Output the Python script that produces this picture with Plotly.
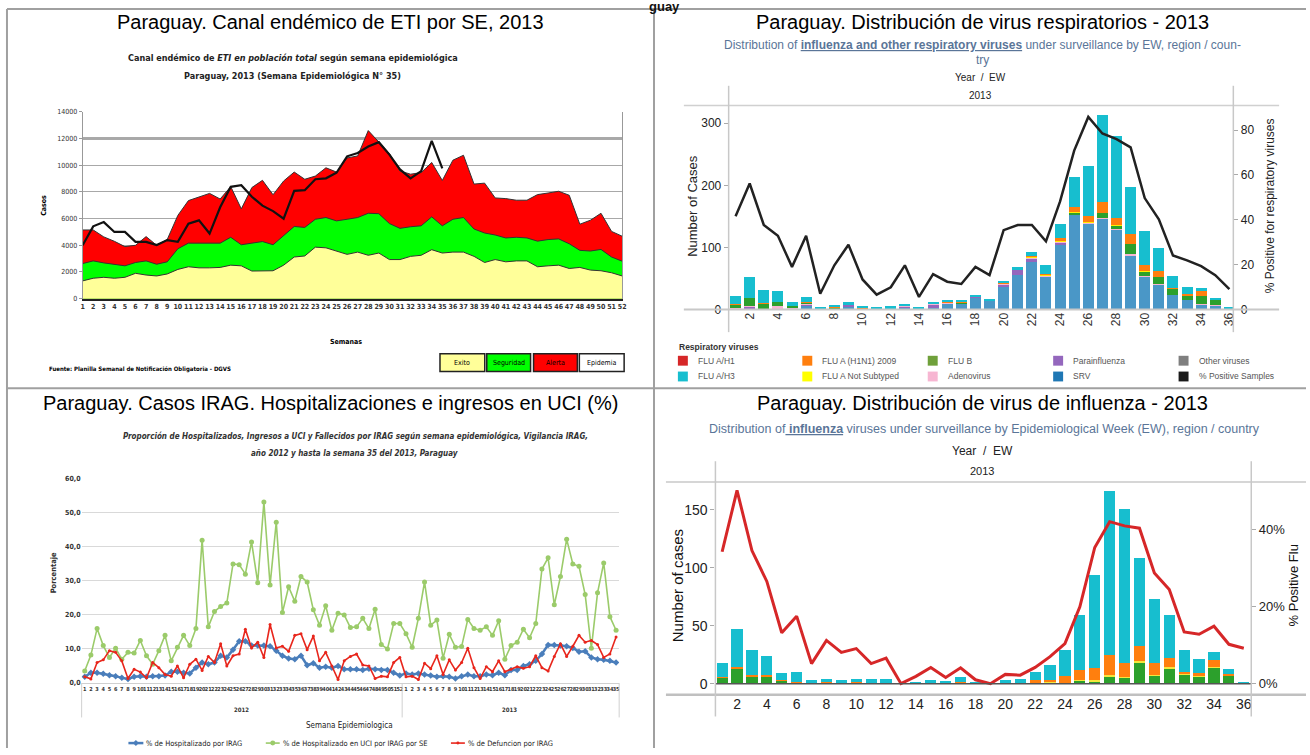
import plotly.graph_objects as go

# ================= DATA =================
# Panel 1: Canal endémico ETI (2013)
semanas = list(range(1, 53))
exito = [1330, 1530, 1600, 1530, 1600, 1900, 1770, 1700, 1850, 2190,
         2390, 2310, 2310, 2340, 2510, 2460, 2070, 2070, 2090, 2510,
         3120, 3200, 3860, 3810, 3570, 3320, 3490, 3250, 3420, 2930,
         2930, 3170, 3250, 3670, 3420, 3490, 3490, 3170, 2710, 2930,
         2760, 2830, 2830, 2390, 2460, 2510, 2260, 2340, 2140, 2090,
         1940, 1700]
seguridad = [2630, 2830, 2680, 2560, 2460, 2710, 2830, 2580, 2760, 3740,
             4160, 4160, 4180, 4160, 4600, 4040, 4160, 4280, 4040, 4720,
             5410, 5340, 5950, 6080, 5830, 5950, 6080, 6400, 6370, 5630,
             5270, 5390, 5460, 6130, 5460, 5950, 6080, 5220, 4920, 4770,
             4550, 4600, 4550, 4310, 4430, 4480, 4110, 3620, 3570, 3690,
             3120, 2810]
alerta = [5150, 5150, 4630, 4300, 3900, 4000, 4650, 4000, 4440, 6240,
          7350, 7640, 7890, 7470, 8400, 6730, 8330, 8870, 7790, 8820,
          9490, 8950, 9190, 9810, 9490, 10550, 10700, 12600, 11740, 10880,
          9570, 9330, 9450, 10210, 8860, 10380, 10750, 8590, 8660, 7550,
          7500, 7380, 7380, 7800, 7920, 8050, 7750, 5580, 5880, 6400,
          5040, 4680]
semanas_2013 = list(range(1, 36))
casos_2013 = [4000, 5420, 5740, 5000, 5000, 4260, 4260, 4020, 4390, 4260,
              5620, 5870, 4880, 6850, 8380, 8500, 7640, 6970, 6560, 5990,
              8080, 8130, 8950, 9020, 9440, 10670, 10920, 11410, 11730, 10800,
              9690, 9020, 9560, 11830, 9760]
casos_ticks = [0, 2000, 4000, 6000, 8000, 10000, 12000, 14000]

# Panel 2: respiratory viruses by EW 2013
ew = list(range(1, 37))
rv_flu_ah1 = [0, 0, 0, 0, 0, 0, 0, 0, 0, 0, 0, 0, 0, 0, 0, 0, 0, 0,
              0, 0, 0, 0, 0, 0, 0, 0, 0.6, 0, 0, 0, 0, 0, 0, 0, 0, 0]
rv_srv = [0, 0, 0, 0, 0, 5, 0.5, 1, 3.5, 1, 0.7, 1.3, 2, 1, 2.5, 9.5, 9, 18.5,
          14, 37, 55.5, 76.7, 53, 104, 152, 137.6, 145.5, 128, 86.8, 53, 39, 22.7, 15.3, 6.9, 5.3, 0]
rv_para = [1.5, 3.5, 0.5, 0, 1, 3, 0, 0, 3, 0, 0, 0, 2, 0, 5, 0, 0, 1.5,
           0, 2.5, 8, 5, 0, 3, 0, 0, 0, 0, 0, 0, 0, 0, 0, 0, 0, 0]
rv_adeno = [1, 1.5, 0.5, 5, 1, 1, 0, 0, 1.5, 0, 0, 0, 2, 0, 1, 0.5, 0, 0,
            0, 2, 0, 1, 1.5, 1.5, 1, 1, 1.6, 1.6, 2, 1.6, 1.5, 1, 0, 1.6, 1.6, 0]
rv_flub = [5, 13, 8, 7, 3, 1, 0, 2, 0, 0, 0, 0, 0, 0, 0, 0, 1.5, 0,
           0, 0, 0, 0, 0, 0, 2.6, 1, 7.4, 5.3, 15.9, 6.3, 11.6, 9.5, 6, 12.7, 8, 0]
rv_notsub = [0, 0, 0, 0, 0, 0.5, 0, 0, 0, 0, 0, 0, 0, 0, 0, 1, 0.5, 0,
             0, 0, 0, 1.5, 1, 1.5, 1.5, 2, 0, 1, 1, 1, 0.5, 0.5, 1, 1, 0, 0]
rv_h1n1 = [1, 1, 1, 0.5, 0.5, 1.5, 0, 1, 0, 2, 0, 0, 0, 0, 0, 1, 1.5, 0,
           0, 1, 0, 2.5, 1.5, 5.8, 7.4, 9, 17.5, 11.6, 15.9, 9.5, 9, 1.5, 3, 7, 0, 0]
rv_h3 = [13, 34, 22, 17, 6, 7.5, 2.5, 2, 3.5, 3, 4, 5, 2, 2, 3, 1.5, 2, 1,
         1.8, 2.5, 5, 6, 14, 21.7, 49, 80, 140, 132, 75, 55.5, 37, 18.5, 11.6, 5.8, 2.6, 1.6]
rv_pct_pos = [41.6, 56.2, 37.7, 32.9, 19.0, 32.9, 7.0, 19.7, 28.9, 13.4, 6.6, 9.9,
              19.7, 5.6, 15.8, 12.4, 11.4, 19.0, 15.3, 35.4, 37.7, 37.7, 30.4, 48.2,
              70.9, 85.9, 78.5, 76.0, 72.3, 49.7, 40.2, 24.1, 21.9, 19.3, 15.3, 9.1]

# Panel 3: IRAG percentages, 2012 w1-52 and 2013 w1-35
semana_labels = [str(s) for s in range(1, 53)] + [str(s) for s in range(1, 36)]
pct_hosp = [1.8, 3.0, 3.0, 2.7, 2.3, 2.0, 1.5, 1.2, 1.8, 2.0,
            1.8, 2.0, 2.0, 2.2, 3.3, 3.3, 3.0, 2.8, 4.5, 6.0,
            5.5, 6.0, 8.0, 7.5, 9.8, 12.3, 12.3, 11.0, 11.0, 11.0,
            10.8, 9.5, 8.0, 7.2, 7.0, 8.0, 5.2, 5.8, 4.5, 4.8,
            4.5, 5.0, 4.0, 4.0, 4.0, 3.8, 4.2, 4.0, 3.8, 3.8,
            3.0, 2.2,
            2.8, 2.5, 2.8, 2.5, 2.2, 1.8, 2.0, 1.8, 1.3, 2.0,
            2.5, 2.0, 2.0, 2.5, 2.3, 3.0, 2.3, 3.8, 3.8, 5.0,
            5.5, 6.5, 8.5, 11.2, 11.2, 11.0, 10.8, 10.3, 9.2, 9.3,
            7.5, 7.0, 6.8, 6.5, 6.0]
pct_uci = [3.5, 8.2, 16.0, 11.0, 7.5, 10.2, 7.0, 9.0, 8.8, 12.5,
           8.0, 5.5, 9.5, 14.0, 6.5, 10.5, 14.0, 11.0, 16.0, 42.0,
           16.5, 21.0, 22.5, 23.5, 35.0, 34.8, 32.0, 41.5, 29.5, 53.2,
           28.8, 47.3, 20.7, 28.3, 24.0, 31.3, 29.7, 21.5, 17.0, 22.7,
           15.5, 20.5, 20.0, 16.3, 16.5, 19.0, 16.0, 21.7, 11.3, 10.0,
           17.5, 17.5,
           14.5, 10.5, 19.0, 29.7, 17.0, 18.5, 7.3, 14.3, 10.5, 10.7,
           18.7, 16.0, 15.5, 16.5, 14.0, 18.3, 7.0, 11.0, 12.0, 15.8,
           13.3, 17.5, 33.5, 36.8, 23.0, 31.3, 42.3, 35.0, 34.3, 26.0,
           10.2, 26.5, 35.3, 19.5, 15.5]
pct_def = [1.8, 1.2, 6.0, 6.8, 9.5, 9.0, 6.5, 1.3, 4.0, 3.2,
           1.5, 6.0, 4.5, 2.5, 2.0, 5.0, 1.5, 5.5, 7.0, 3.7,
           7.8, 6.0, 11.5, 5.0, 8.0, 8.5, 15.8, 10.3, 12.0, 7.5,
           17.2, 10.3, 10.8, 9.3, 14.0, 14.5, 9.8, 13.8, 6.5, 9.0,
           5.0, 1.0, 6.5, 7.8, 8.5, 5.3, 5.0, 1.3, 2.0, 1.8,
           6.0, 7.5,
           1.8, 2.0, 1.0, 5.8, 4.2, 8.0, 2.5, 6.8, 3.8, 6.0,
           10.2, 4.5, 1.3, 4.8, 3.3, 6.5, 3.3, 4.0, 4.8, 4.3,
           4.8, 8.0, 4.5, 3.5, 7.8, 11.5, 7.8, 10.8, 14.0, 12.0,
           12.5, 11.3, 7.5, 8.5, 13.5]

# Panel 4: influenza viruses by EW 2013
fl_flub = [5, 13, 6.5, 6.5, 2.5, 0.5, 0, 0.5, 0, 0, 0, 0, 0, 0, 0, 0, 0.5, 0,
           0, 0, 0, 0, 0.5, 0, 2.5, 2, 6.5, 5, 17.6, 6.8, 13.3, 8.2, 6.5, 13.6, 7.5, 0]
fl_notsub = [0, 0, 0, 0, 0, 0, 0, 0, 0, 0, 0, 0, 0, 0, 0, 0.5, 0, 0,
             0, 0, 0, 0.5, 1, 1, 1, 1, 1, 0.8, 2, 0.8, 0.8, 0.5, 0.5, 0.5, 0, 0]
fl_h1n1 = [1, 1, 1, 1, 1, 1, 1, 1, 0.5, 1.2, 0.5, 0.5, 0, 0, 0.5, 0, 1, 0.5,
           0, 0.5, 0.5, 2.5, 2, 5.8, 8.5, 10.5, 17, 11.8, 13.3, 10, 8.3, 1.8, 1.8, 6, 1, 0.5]
fl_h3 = [12, 33, 22, 16, 5.5, 8.5, 2, 2.5, 2.5, 2.8, 3.5, 3.5, 0.5, 1.5, 2.5, 1.8, 4.2, 1.2,
         0.5, 2.5, 3.5, 7, 12.5, 22, 47, 80, 142, 133.4, 75.4, 55.3, 37, 19, 12.2, 6.9, 4, 1]
fl_pct_pos = [34.2, 50.1, 34.5, 26.5, 13.2, 17.5, 5.2, 11.2, 8.1, 9.1, 5.2, 6.6,
              0.0, 1.9, 4.2, 1.6, 4.1, 1.0, 0.0, 2.4, 2.2, 4.2, 7.0, 10.4,
              19.9, 35.3, 42.0, 40.9, 40.3, 28.7, 24.4, 13.4, 12.8, 14.9, 10.2, 9.2]

# ================= LAYOUT HELPERS =================
W, H = 1310, 755
ARIAL = "Liberation Sans, Arial, sans-serif"
NARROW = "Liberation Sans Narrow, Arial Narrow, DejaVu Sans Condensed, sans-serif"


def xd(a, b):
    return [a / W, b / W]


def yd(top, bottom):
    return [1 - bottom / H, 1 - top / H]


annotations = []
shapes = []


def ann(x, y, text, size, color="#000", family=ARIAL, xanchor="center",
        yanchor="middle", angle=0):
    annotations.append(dict(xref="paper", yref="paper", x=x / W, y=1 - y / H,
                            text=text, showarrow=False, textangle=angle,
                            font=dict(size=size, color=color, family=family),
                            xanchor=xanchor, yanchor=yanchor))


def hline(x0, x1, y, color="#aaa", width=1.5, dash="solid"):
    shapes.append(dict(type="line", xref="paper", yref="paper", x0=x0 / W, x1=x1 / W,
                       y0=1 - y / H, y1=1 - y / H, line=dict(color=color, width=width, dash=dash)))


def vline(x, y0, y1, color="#aaa", width=1.5):
    shapes.append(dict(type="line", xref="paper", yref="paper", x0=x / W, x1=x / W,
                       y0=1 - y0 / H, y1=1 - y1 / H, line=dict(color=color, width=width)))


def rect(x0, y0, x1, y1, fill, line="#000", lw=1):
    shapes.append(dict(type="rect", xref="paper", yref="paper", x0=x0 / W, x1=x1 / W,
                       y0=1 - y1 / H, y1=1 - y0 / H, fillcolor=fill,
                       line=dict(color=line, width=lw)))


fig = go.Figure()

# ================= PANEL 1 =================
for vals, col in [(alerta, "#ff0000"), (seguridad, "#00ff00"), (exito, "#ffff99")]:
    fig.add_trace(go.Scatter(x=semanas, y=vals, xaxis="x", yaxis="y", mode="lines",
                             fill="tozeroy", fillcolor=col,
                             line=dict(color="#333", width=1), hoverinfo="skip"))
fig.add_trace(go.Scatter(x=semanas_2013, y=casos_2013, xaxis="x", yaxis="y", mode="lines",
                         line=dict(color="#111", width=2.2)))
shapes.append(dict(type="line", xref="x", yref="y", x0=1, x1=52, y0=12000, y1=12000,
                   line=dict(color="#555", width=2), layer="below"))

ann(330, 18, "Paraguay. Canal endémico de ETI por SE, 2013", 20)
ann(292, 55, "<b>Canal endémico de <i>ETI en población total</i> según semana epidemiológica</b>", 9,
    color="#222", family=NARROW)
ann(292, 73, "<b>Paraguay, 2013 (Semana Epidemiológica N° 35)</b>", 9, color="#222", family=NARROW)
ann(42, 204, "<b>Casos</b>", 7, angle=-90, family=NARROW)
ann(346, 343, "<b>Semanas</b>", 7, family=NARROW)
ann(45, 370, "<b>Fuente: Planilla Semanal de Notificación Obligatoria - DGVS</b>", 6,
    family=NARROW, xanchor="left")
for (x0, x1, fill, lab) in [(440, 485, "#ffff99", "Exito"), (487, 531, "#00ff00", "Seguridad"),
                            (534, 578, "#ff0000", "Alerta"), (580, 625, "#ffffff", "Epidemia")]:
    rect(x0, 355, x1, 373, fill, "#222", 1.5)
    ann((x0 + x1) / 2, 364, lab, 7, family=NARROW)

# ================= PANEL 2 =================
p2_series = [
    (rv_flu_ah1, "#d62728"), (rv_srv, "#4a97c7"), (rv_para, "#9467bd"),
    (rv_adeno, "#f7b6d2"), (rv_flub, "#2ca02c"), (rv_notsub, "#ffee00"),
    (rv_h1n1, "#ff7f0e"), (rv_h3, "#17becf"),
]
for vals, col in p2_series:
    fig.add_trace(go.Bar(x=ew, y=vals, xaxis="x2", yaxis="y2", width=0.78,
                         marker=dict(color=col, line=dict(width=0))))
fig.add_trace(go.Scatter(x=ew, y=rv_pct_pos, xaxis="x2", yaxis="y3", mode="lines",
                         line=dict(color="#222", width=2.5)))

ann(985, 18, "Paraguay. Distribución de virus respiratorios - 2013", 20)
ann(985, 42, "Distribution of <b><u>influenza and other respiratory viruses</u></b> under surveillance by EW, region / coun-",
    12, color="#5a7598")
ann(985, 57, "try", 12, color="#5a7598")
ann(983, 75, "Year  /  EW", 10, color="#222")
ann(983, 93, "2013", 10, color="#222")
hline(685, 1283, 103, "#d0d0d0", 1.5)
hline(685, 1283, 310, "#c8c8c8", 2)
vline(730, 83, 333, "#c8c8c8", 1.5)
vline(1237, 83, 333, "#c8c8c8", 1.5)
ann(693, 205, "Number of Cases", 13, color="#222", angle=-90)
ann(1274, 205, "% Positive for respiratory viruses", 12, color="#222", angle=-90)

# legend panel 2
ann(678, 348, "<b>Respiratory viruses</b>", 8.5, color="#333", xanchor="left")
leg2 = [
    (679, 362, "#d62728", "FLU A/H1"), (804, 362, "#ff7f0e", "FLU A (H1N1) 2009"),
    (930, 362, "#6fa03a", "FLU B"), (1056, 362, "#9467bd", "Parainfluenza"),
    (1182, 362, "#7f7f7f", "Other viruses"),
    (679, 378, "#17becf", "FLU A/H3"), (804, 378, "#ffff00", "FLU A Not Subtyped"),
    (930, 378, "#f7b6d2", "Adenovirus"), (1056, 378, "#1f77b4", "SRV"),
    (1182, 378, "#1a1a1a", "% Positive Samples"),
]
for x, y, col, lab in leg2:
    rect(x, y - 5, x + 10, y + 5, col, col, 0)
    ann(x + 18, y, lab, 8.5, color="#555", xanchor="left")

# ================= PANEL 3 =================
idx = list(range(len(semana_labels)))
fig.add_trace(go.Scatter(x=idx, y=pct_hosp, xaxis="x3", yaxis="y4", mode="lines+markers",
                         line=dict(color="#4a7ebb", width=2.5),
                         marker=dict(symbol="diamond", size=5, color="#4a7ebb")))
fig.add_trace(go.Scatter(x=idx, y=pct_uci, xaxis="x3", yaxis="y4", mode="lines+markers",
                         line=dict(color="#9bcb6a", width=1.6),
                         marker=dict(symbol="circle", size=5, color="#9bcb6a")))
fig.add_trace(go.Scatter(x=idx, y=pct_def, xaxis="x3", yaxis="y4", mode="lines+markers",
                         line=dict(color="#e8261c", width=1.6),
                         marker=dict(symbol="circle", size=3, color="#e8261c")))

ann(330, 405, "Paraguay. Casos IRAG. Hospitalizaciones e ingresos en UCI (%)", 20)
ann(355, 438, "<b><i>Proporción de Hospitalizados, Ingresos a UCI y Fallecidos por IRAG según semana epidemiológica, Vigilancia IRAG,</i></b>",
    8, color="#333", family=NARROW)
ann(354, 456, "<b><i>año 2012 y hasta la semana 35 del 2013, Paraguay</i></b>", 8, color="#333", family=NARROW)
ann(52, 577, "<b>Porcentaje</b>", 7.5, color="#333", angle=-90, family=NARROW)
ann(241, 716, "<b>2012</b>", 6, color="#333", family=NARROW)
ann(510, 716, "<b>2013</b>", 6, color="#333", family=NARROW)
ann(349, 732, "Semana Epidemiologica", 8, color="#222", family=NARROW)
for xx in (80, 402, 620):
    vline(xx, 689, 724, "#d0d0d0", 1)
# legend panel 3
hline(127, 142, 750, "#4a7ebb", 2.5)
shapes.append(dict(type="path", xref="paper", yref="paper",
                   path=f"M {134.5/W},{1-747/H} L {137.5/W},{1-750/H} L {134.5/W},{1-753/H} L {131.5/W},{1-750/H} Z",
                   fillcolor="#4a7ebb", line=dict(width=0)))
ann(143, 750, "% de Hospitalizado por IRAG", 7.5, color="#222", family=NARROW, xanchor="left")
hline(265, 279, 750, "#9bcb6a", 1.6)
shapes.append(dict(type="circle", xref="paper", yref="paper", x0=269.5 / W, x1=274.5 / W,
                   y0=1 - 752.5 / H, y1=1 - 747.5 / H, fillcolor="#9bcb6a", line=dict(width=0)))
ann(280, 750, "% de Hospitalizado en UCI por IRAG por SE", 7.5, color="#222", family=NARROW, xanchor="left")
hline(451, 465, 750, "#e8261c", 1.6)
shapes.append(dict(type="circle", xref="paper", yref="paper", x0=456.5 / W, x1=459.5 / W,
                   y0=1 - 751.5 / H, y1=1 - 748.5 / H, fillcolor="#e8261c", line=dict(width=0)))
ann(466, 750, "% de Defuncion por IRAG", 7.5, color="#222", family=NARROW, xanchor="left")

# ================= PANEL 4 =================
for vals, col in [(fl_flub, "#2ca02c"), (fl_notsub, "#f5e63c"), (fl_h1n1, "#ff7f0e"), (fl_h3, "#17becf")]:
    fig.add_trace(go.Bar(x=ew, y=vals, xaxis="x4", yaxis="y5", width=0.75,
                         marker=dict(color=col, line=dict(width=0))))
fig.add_trace(go.Scatter(x=ew, y=fl_pct_pos, xaxis="x4", yaxis="y6", mode="lines",
                         line=dict(color="#d62728", width=3)))
shapes.append(dict(type="line", xref="x4", yref="y5", x0=0.55, x1=36.5, y0=0, y1=0,
                   line=dict(color="#555", width=1.5), layer="above"))

ann(985, 405, "Paraguay. Distribución de virus de influenza - 2013", 20)
ann(987, 431, "Distribution of<b><u> influenza</u></b> viruses under surveillance by Epidemiological Week (EW), region / country",
    12.5, color="#5a7598")
ann(985, 454, "Year  /  EW", 12, color="#222")
ann(985, 474, "2013", 11, color="#222")
hline(667, 1310, 485, "#c8c8c8", 1.5)
hline(667, 1310, 701, "#c0c0c0", 2.5)
vline(716.7, 464, 723, "#c8c8c8", 1.5)
vline(1255, 464, 723, "#c8c8c8", 1.5)
ann(679, 590, "Number of cases", 15, color="#111", angle=-90)
ann(1297, 590, "% Positive Flu", 13, color="#111", angle=-90)

# ================= FRAME =================
hline(5, 1310, 5, "#a0a0a0", 2)
hline(5, 1310, 390, "#a0a0a0", 2)
vline(5, 5, 755, "#a0a0a0", 2)
vline(655, 5, 755, "#a0a0a0", 2)
ann(666, 3, "<b>guay</b>", 13, color="#111")

# ================= AXES =================
tickfont_small = dict(size=7, family=NARROW, color="#333")
fig.update_layout(
    width=W, height=H, margin=dict(l=0, r=0, t=0, b=0),
    paper_bgcolor="white", plot_bgcolor="rgba(0,0,0,0)",
    showlegend=False, barmode="stack",
    annotations=annotations, shapes=shapes,
    xaxis=dict(domain=xd(81, 623), anchor="y", range=[1, 52], tickvals=semanas,
               ticktext=[f"<b>{s}</b>" for s in semanas], tickangle=0,
               tickfont=tickfont_small, showgrid=False, zeroline=False,
               showline=True, linecolor="#222", linewidth=1.5, mirror=False),
    yaxis=dict(domain=yd(109.5, 299), anchor="x", range=[0, 14000],
               tickvals=casos_ticks, ticktext=[str(v) for v in casos_ticks],
               tickfont=tickfont_small, showgrid=True, gridcolor="#a8a8a8", gridwidth=1,
               zeroline=False, showline=True, linecolor="#999", linewidth=1, mirror=True,
               ticks="outside", ticklen=3, tickcolor="#999"),
    xaxis2=dict(domain=xd(730, 1237), anchor="y2", range=[0.51, 36.28],
                tickvals=list(range(2, 37, 2)), tickangle=-90,
                tickfont=dict(size=12, family=ARIAL, color="#333"),
                showgrid=False, zeroline=False, showline=False, ticks=""),
    yaxis2=dict(domain=yd(103, 310), anchor="x2", range=[0, 328.6],
                tickvals=[0, 100, 200, 300], tickfont=dict(size=12, family=ARIAL, color="#222"),
                showgrid=False, zeroline=False, showline=False,
                ticks="outside", ticklen=4, tickcolor="#aaa"),
    yaxis3=dict(domain=yd(103, 310), anchor="x2", overlaying="y2", side="right",
                range=[0, 91], tickvals=[0, 20, 40, 60, 80],
                tickfont=dict(size=12, family=ARIAL, color="#222"),
                showgrid=False, zeroline=False, showline=False,
                ticks="outside", ticklen=4, tickcolor="#aaa"),
    xaxis3=dict(domain=xd(80, 620), anchor="y4", range=[-0.5, 86.5],
                tickvals=idx, ticktext=[f"<b>{s}</b>" for s in semana_labels], tickangle=0,
                tickfont=dict(size=5.5, family=NARROW, color="#333"),
                showgrid=False, zeroline=False, showline=True, linecolor="#d0d0d0", linewidth=1),
    yaxis4=dict(domain=yd(482, 689), anchor="x3", range=[0, 60],
                tickvals=[0, 10, 20, 30, 40, 50, 60],
                ticktext=["<b>0,0</b>", "<b>10,0</b>", "<b>20,0</b>", "<b>30,0</b>",
                          "<b>40,0</b>", "<b>50,0</b>", "<b>60,0</b>"],
                tickfont=dict(size=7, family=NARROW, color="#333"),
                showgrid=True, gridcolor="#d9d9d9", gridwidth=1, zeroline=False, showline=False),
    xaxis4=dict(domain=xd(716.7, 1255), anchor="y5", range=[0.55, 36.5],
                tickvals=list(range(2, 37, 2)), tickangle=0,
                tickfont=dict(size=14, family=ARIAL, color="#222"),
                showgrid=False, zeroline=False, showline=False, ticks=""),
    yaxis5=dict(domain=yd(485, 700.7), anchor="x4", range=[-9.35, 174.2],
                tickvals=[0, 50, 100, 150], tickfont=dict(size=14, family=ARIAL, color="#222"),
                showgrid=False, zeroline=False, showline=False,
                ticks="outside", ticklen=4, tickcolor="#aaa"),
    yaxis6=dict(domain=yd(485, 700.7), anchor="x4", overlaying="y5", side="right",
                range=[-2.81, 52.3], tickvals=[0, 20, 40], ticktext=["0%", "20%", "40%"],
                tickfont=dict(size=13, family=ARIAL, color="#222"),
                showgrid=False, zeroline=False, showline=False,
                ticks="outside", ticklen=4, tickcolor="#aaa"),
)

fig.write_html("out.html", config={"displayModeBar": False},
               post_script="document.body.style.margin='0px';document.body.style.overflow='hidden';")
